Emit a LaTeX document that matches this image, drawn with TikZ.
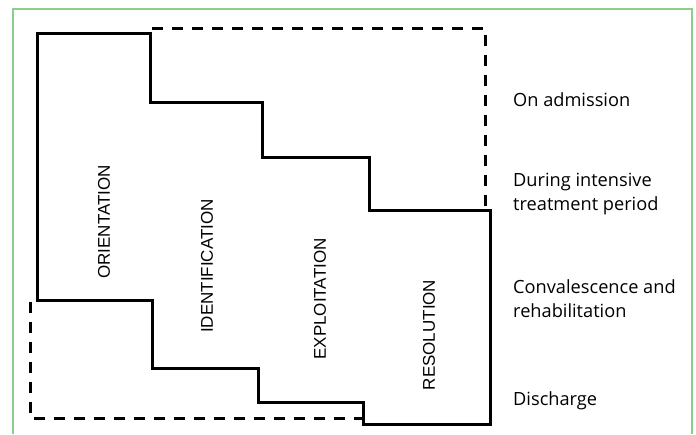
\documentclass[tikz,border=0pt]{standalone}
\usepackage{fontspec}
\setmainfont{Open Sans}
\newfontfamily\phasefont{Liberation Sans}
\definecolor{framegreen}{RGB}{140,206,140}
\tikzset{
  phaseline/.style={line width=3pt, black, line join=miter},
  periodline/.style={line width=3pt, black, dash pattern=on 11pt off 9pt},
  phase/.style={font=\phasefont\fontsize{17}{20}\selectfont, rotate=90, inner sep=0pt, anchor=center},
  period/.style={font=\fontsize{18.2}{24}\selectfont, inner sep=0pt, anchor=base west},
}
\begin{document}
\begin{tikzpicture}[x=1pt,y=-1pt]
\useasboundingbox (0,0) rectangle (696,434);
% frame
\draw[framegreen, line width=1.3pt] (13,434) -- (13,9) -- (692,9) -- (692,434);
% dashed period outlines
\draw[periodline] (152,28) -- (485,28) -- (485,207);
\draw[periodline] (30,302) -- (30,418) -- (362,418);
% solid phase outline
\draw[phaseline] (37,33) -- (150,33) -- (150,102) -- (262,102) -- (262,157)
  -- (369,157) -- (369,210) -- (490,210) -- (490,424) -- (363,424) -- (363,402)
  -- (258,402) -- (258,368) -- (152,368) -- (152,300) -- (37,300) -- cycle;
% phase labels
\node[phase] (orient) at (104,222) {ORIENTATION};
\node[phase] (ident) at (207,266) {IDENTIFICATION};
\node[phase] (exploit) at (320,299) {EXPLOITATION};
\node[phase] (resol) at (429,335) {RESOLUTION};
% period labels
\node[period] (adm) at (513,106) {On admission};
\node[period] (int1) at (513,186) {During intensive};
\node[period] (int2) at (513,210) {treatment period};
\node[period] (conv1) at (513,293) {Convalescence and};
\node[period] (conv2) at (513,317) {rehabilitation};
\node[period] (disch) at (513,405) {Discharge};
\end{tikzpicture}
\end{document}
